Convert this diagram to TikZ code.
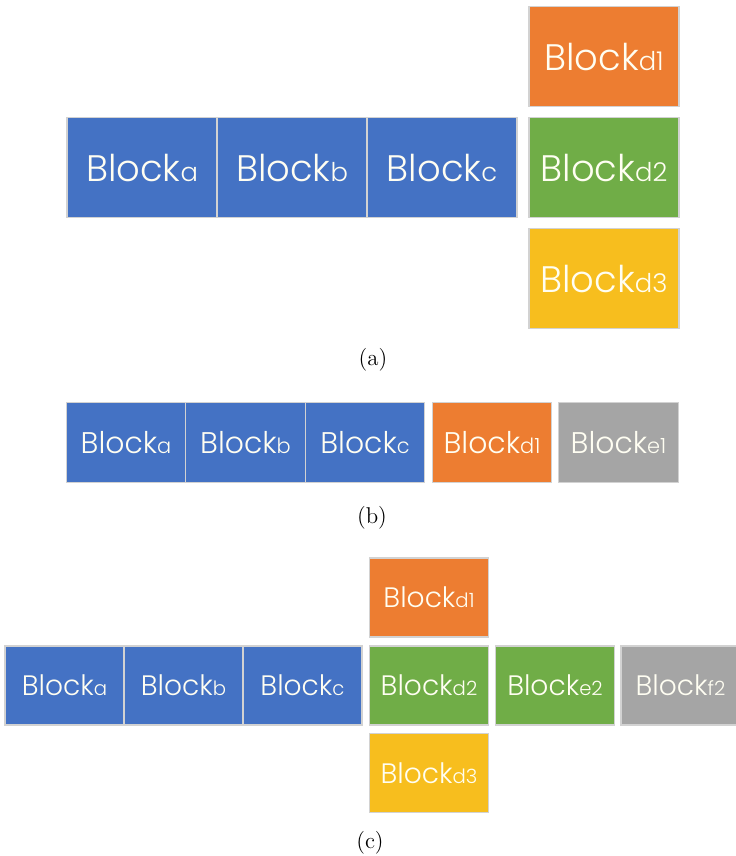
\documentclass[tikz,border=0pt]{standalone}
\usepackage{fontspec}
\usepackage{graphicx}
\usepackage{tikz}
\newfontfamily\blockfont{Poppins}[UprightFont=* Light]
\definecolor{blockblue}{HTML}{4472C4}
\definecolor{blockorange}{HTML}{ED7D31}
\definecolor{blockgreen}{HTML}{70AD47}
\definecolor{blockyellow}{HTML}{F7BE1E}
\definecolor{blockgray}{HTML}{A5A5A5}
\tikzset{
  block/.style={draw=gray!35, line width=0.6pt, text=white!95!yellow, inner sep=0pt},
  blockA/.style={block, minimum width=3cm, minimum height=2cm,
    font=\blockfont\fontsize{21}{21}\selectfont},
  blockB/.style={block, minimum width=2.39cm, minimum height=1.6cm,
    font=\blockfont\fontsize{17}{17}\selectfont},
  blockC/.style={block, minimum width=2.38cm, minimum height=1.58cm,
    font=\blockfont\fontsize{16}{16}\selectfont},
  caption/.style={font=\fontsize{13}{15}\selectfont},
}
\newcommand{\blk}[1]{Block\scalebox{0.7}{#1}}

\begin{document}
\begin{tikzpicture}[x=0.02cm, y=-0.02cm]
\useasboundingbox (0,0) rectangle (735,856);
% (a) three blue blocks, d column on the right
\foreach \name/\x in {a/142, b/292, c/442}
    \node[blockA, fill=blockblue] (A\name) at (\x,167.5) {\blk{\name}};
\foreach \name/\y/\col in {d1/56.5/blockorange, d2/167.5/blockgreen, d3/278.5/blockyellow}
    \node[blockA, fill=\col] (A\name) at (604,\y) {\blk{\name}};
\node[caption] (capA) at (373,360) {(a)};

% (b) one single row
\foreach \name/\x/\col in {a/126/blockblue, b/245.5/blockblue, c/365/blockblue,
                           d1/492/blockorange, e1/618.5/blockgray}
    \node[blockB, fill=\col] (B\name) at (\x,442.5) {\blk{\name}};
\node[caption] (capB) at (372,518) {(b)};

% (c) row with d column and two more blocks
\foreach \name/\x/\col in {a/64.5/blockblue, b/183.5/blockblue, c/302.5/blockblue,
                           d2/429/blockgreen, e2/555/blockgreen, f2/680.5/blockgray}
    \node[blockC, fill=\col] (C\name) at (\x,685.5) {\blk{\name}};
\node[blockC, fill=blockorange] (Cd1) at (429,597.5) {\blk{d1}};
\node[blockC, fill=blockyellow] (Cd3) at (429,773) {\blk{d3}};
\node[caption] (capC) at (370,843) {(c)};
\end{tikzpicture}
\end{document}
